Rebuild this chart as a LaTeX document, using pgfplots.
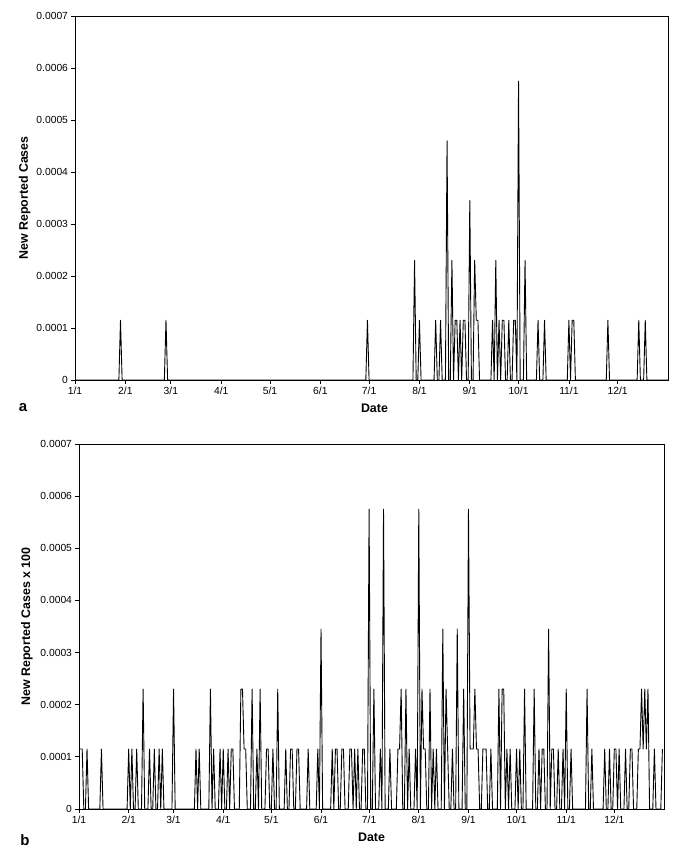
\documentclass[border=0pt]{standalone}
\usepackage{fontspec}
\setmainfont{Liberation Sans}
\usepackage{pgfplots}
\pgfplotsset{compat=1.18}
\pgfplotsset{
  panel/.style={
    scale only axis,
    xmin=0, xmax=365, ymin=0, ymax=0.0007,
    scaled y ticks=false,
    xtick={0,31,59,90,120,151,181,212,243,273,304,334},
    xticklabels={1/1,2/1,3/1,4/1,5/1,6/1,7/1,8/1,9/1,10/1,11/1,12/1},
    ytick={0,0.0001,0.0002,0.0003,0.0004,0.0005,0.0006,0.0007},
    yticklabels={0,0.0001,0.0002,0.0003,0.0004,0.0005,0.0006,0.0007},
    xtick pos=bottom, ytick pos=left,
    tick align=outside,
    major tick length=3.5pt,
    every tick/.style={black, line width=0.8pt},
    axis line style={line width=0.8pt},
    /pgf/number format/assume math mode=true,
    tick label style={font=\fontsize{10.3}{12}\selectfont},
    label style={font=\fontsize{12.4}{14}\selectfont\bfseries},
    xlabel={Date},
    xlabel style={at={(axis description cs:0.505,-0.077)}, anchor=center},
  },
}
\begin{document}
\begin{tikzpicture}
\path[use as bounding box] (0pt,0pt) rectangle (680pt,-858pt);
% ---------------- panel a ----------------
\begin{axis}[panel,
  at={(75pt,-380pt)}, anchor=south west,
  width=593pt, height=364pt,
  ylabel={New Reported Cases},
  ylabel style={at={(axis description cs:-0.085,0.5)}, anchor=center},
]
\addplot[black, line width=0.9pt, line join=round] table {
x y
0 0
27 0
28 0.000115
29 0
55 0
56 0.000115
57 0
179 0
180 0.000115
181 0
208 0
209 0.00023
210 0
211 0
212 0.000115
213 0
221 0
222 0.000115
223 0
224 0
225 0.000115
226 0
228 0
229 0.00046
230 0
231 0
232 0.00023
233 0
234 0.000115
235 0.000115
236 0
237 0.000115
238 0
239 0.000115
240 0.000115
241 0
242 0
243 0.000345
244 0
245 0
246 0.00023
247 0.000115
248 0.000115
249 0
256 0
257 0.000115
258 0
259 0.00023
260 0
261 0.000115
262 0
263 0.000115
264 0.000115
265 0
266 0
267 0.000115
268 0
269 0
270 0.000115
271 0.000115
272 0
273 0.000575
274 0
276 0
277 0.00023
278 0
284 0
285 0.000115
286 0
288 0
289 0.000115
290 0
303 0
304 0.000115
305 0
306 0.000115
307 0.000115
308 0
327 0
328 0.000115
329 0
346 0
347 0.000115
348 0
350 0
351 0.000115
352 0
365 0
};
\end{axis}
% ---------------- panel b ----------------
\begin{axis}[panel,
  at={(79pt,-809pt)}, anchor=south west,
  width=585pt, height=365pt,
  ylabel={New Reported Cases x 100},
  ylabel style={at={(axis description cs:-0.089,0.5)}, anchor=center},
  xlabel style={at={(axis description cs:0.50,-0.077)}, anchor=center},
]
\addplot[black, line width=0.9pt, line join=round] table {
x y
0 0.000115
1 0.000115
2 0.000115
3 0
4 0
5 0.000115
6 0
13 0
14 0.000115
15 0
30 0
31 0.000115
32 0
33 0.000115
34 0
35 0
36 0.000115
37 0
39 0
40 0.00023
41 0
43 0
44 0.000115
45 0
46 0
47 0.000115
48 0
49 0
50 0.000115
51 0
52 0.000115
53 0
58 0
59 0.00023
60 0
72 0
73 0.000115
74 0
75 0.000115
76 0
81 0
82 0.00023
83 0
84 0.000115
85 0
87 0
88 0.000115
89 0
90 0.000115
91 0
92 0
93 0.000115
94 0
95 0.000115
96 0.000115
97 0
100 0
101 0.00023
102 0.00023
103 0.000115
104 0.000115
105 0
107 0
108 0.00023
109 0
110 0
111 0.000115
112 0
113 0.00023
114 0
116 0
117 0.000115
118 0.000115
119 0
120 0
121 0.000115
122 0
123 0
124 0.00023
125 0
128 0
129 0.000115
130 0
131 0
132 0.000115
133 0.000115
134 0
135 0
136 0.000115
137 0.000115
138 0
142 0
143 0.000115
144 0
148 0
149 0.000115
150 0
151 0.000345
152 0
157 0
158 0.000115
159 0
160 0.000115
161 0.000115
162 0
163 0
164 0.000115
165 0.000115
166 0
168 0
169 0.000115
170 0.000115
171 0
172 0.000115
173 0
174 0.000115
175 0
176 0
177 0.000115
178 0.000115
179 0
180 0
181 0.000575
182 0
183 0
184 0.00023
185 0
187 0
188 0.000115
189 0
190 0.000575
191 0
193 0
194 0.000115
195 0
198 0
199 0.000115
200 0.000115
201 0.00023
202 0
203 0
204 0.00023
205 0
206 0.000115
207 0
209 0
210 0.000115
211 0
212 0.000575
213 0
214 0.00023
215 0.000115
216 0.000115
217 0
218 0
219 0.00023
220 0
221 0.000115
222 0
223 0.000115
224 0
226 0
227 0.000345
228 0
229 0.00023
230 0.000115
231 0
232 0
233 0.000115
234 0
235 0
236 0.000345
237 0
239 0
240 0.00023
241 0
242 0
243 0.000575
244 0.000115
245 0.000115
246 0.000115
247 0.00023
248 0.000115
249 0.000115
250 0
251 0
252 0.000115
253 0.000115
254 0.000115
255 0
256 0
257 0.000115
258 0
261 0
262 0.00023
263 0
264 0.00023
265 0.00023
266 0
267 0.000115
268 0
269 0.000115
270 0
272 0
273 0.000115
274 0
275 0.000115
276 0
277 0
278 0.00023
279 0
283 0
284 0.00023
285 0
286 0
287 0.000115
288 0
289 0.000115
290 0.000115
291 0
292 0
293 0.000345
294 0
295 0.000115
296 0.000115
297 0
298 0
299 0.000115
300 0
301 0
302 0.000115
303 0
304 0.00023
305 0
306 0
307 0.000115
308 0
316 0
317 0.00023
318 0
319 0
320 0.000115
321 0
327 0
328 0.000115
329 0
330 0
331 0.000115
332 0
333 0
334 0.000115
335 0.000115
336 0
337 0.000115
338 0
340 0
341 0.000115
342 0
343 0
344 0.000115
345 0.000115
346 0
348 0
349 0.000115
350 0.000115
351 0.00023
352 0.000115
353 0.00023
354 0.000115
355 0.00023
356 0
358 0
359 0.000115
360 0
363 0
364 0.000115
};
\end{axis}
\node[font=\fontsize{15}{17}\selectfont\bfseries] at (23pt,-408pt) {a};
\node[font=\fontsize{15}{17}\selectfont\bfseries] at (25pt,-840pt) {b};
\end{tikzpicture}
\end{document}
